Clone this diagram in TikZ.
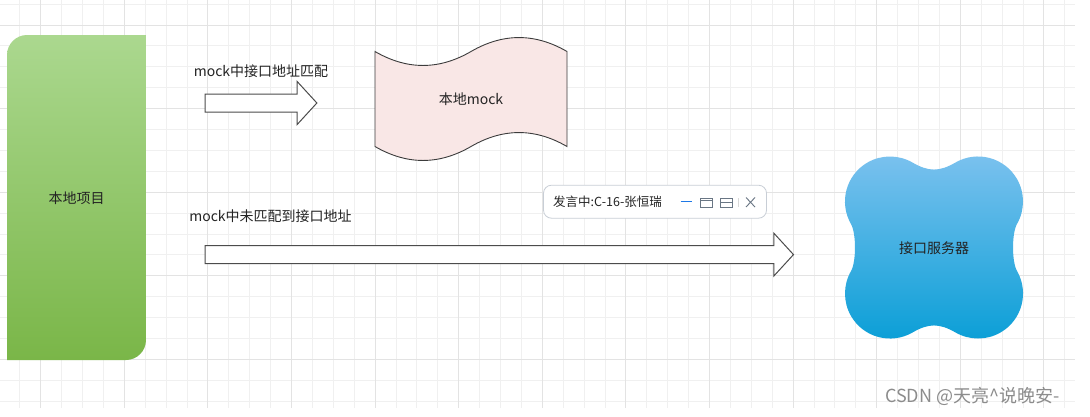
\documentclass[tikz,border=0pt]{standalone}
\usepackage{fontspec}
\newfontfamily\cjk{Noto Sans CJK SC}
\usetikzlibrary{shapes.arrows}
\definecolor{gridmin}{RGB}{240,240,240}
\definecolor{gridmaj}{RGB}{227,227,227}
\definecolor{greentop}{RGB}{171,216,143}
\definecolor{greenbot}{RGB}{122,182,72}
\definecolor{tapefill}{RGB}{249,231,230}
\definecolor{tapeline}{RGB}{60,60,60}
\definecolor{bluetop}{RGB}{125,194,239}
\definecolor{bluebot}{RGB}{8,158,214}
\definecolor{popline}{RGB}{200,206,214}
\definecolor{icongray}{RGB}{105,118,132}
\definecolor{iconblue}{RGB}{30,120,230}
\definecolor{textdark}{RGB}{35,35,35}

\begin{document}
\begin{tikzpicture}[x=1pt,y=-1pt,
  lbl/.style={font=\cjk\fontsize{14}{17}\selectfont,text=textdark,inner sep=0pt},
  blockarrow/.style={single arrow,draw=black!70,fill=white,line width=1pt,
    inner xsep=0pt,inner ysep=8.5pt,single arrow head extend=12.5pt,
    single arrow tip angle=95},
  popup/.style={draw=popline,fill=white,rounded corners=8pt,line width=0.8pt,
    minimum width=223pt,minimum height=33pt},
  icon/.style={draw=icongray,line width=0.9pt}]
  \useasboundingbox (0,0) rectangle (1090,416);
  \fill[white] (0,0) rectangle (1090,416);
  % grid
  \foreach \i in {0,...,50} \draw[gridmin,line width=1pt] ({19.8+20.9*\i},0) -- ({19.8+20.9*\i},408);
  \foreach \j in {0,...,19} \draw[gridmin,line width=1pt] (0,{4.1+20.9*\j}) -- (1075,{4.1+20.9*\j});
  \foreach \i in {1,5,...,49} \draw[gridmaj,line width=1pt] ({19.8+20.9*\i},0) -- ({19.8+20.9*\i},408);
  \foreach \j in {1,5,...,17} \draw[gridmaj,line width=1pt] (0,{4.1+20.9*\j}) -- (1075,{4.1+20.9*\j});

  % local project
  \shade[top color=greentop,bottom color=greenbot] (7,360) -- (7,55)
    .. controls (7,44) and (16,35) .. (27,35) -- (146,35) -- (146,340)
    .. controls (146,351) and (137,360) .. (126,360) -- cycle;
  \node[lbl] (proj) at (76.5,198) {本地项目};

  % local mock
  \filldraw[fill=tapefill,draw=tapeline,line width=0.9pt] (375,51.5)
    .. controls (407,70.1) and (439,70.1) .. (471,51.5)
    .. controls (503,32.9) and (535,32.9) .. (567,51.5) -- (567,146.5)
    .. controls (535,127.9) and (503,127.9) .. (471,146.5)
    .. controls (439,165.1) and (407,165.1) .. (375,146.5) -- cycle;
  \node[lbl] (mock) at (471,99) {本地mock};

  % interface server
  \begin{scope}[shift={(934,247.5)}]
    \shade[top color=bluetop,bottom color=bluebot] (83,23.5)
      arc[start angle=-30,end angle=120,radius=45]
      .. controls (5.3,75.6) and (-5.3,75.6) .. (-21.5,85)
      arc[start angle=60,end angle=210,radius=45]
      .. controls (-77.7,14.3) and (-77.7,-14.3) .. (-83,-23.5)
      arc[start angle=150,end angle=300,radius=45]
      .. controls (-5.3,-75.6) and (5.3,-75.6) .. (21.5,-85)
      arc[start angle=240,end angle=390,radius=45]
      .. controls (77.7,-14.3) and (77.7,14.3) .. cycle;
  \end{scope}
  \node[lbl] (srv) at (934,248) {接口服务器};

  % arrows
  \node[blockarrow,minimum height=111.7pt] (hit) at (256.9,103) {};
  \node[lbl] (hitlbl) at (261,71) {mock中接口地址匹配};
  \node[blockarrow,minimum height=588.3pt] (miss) at (495.2,254.6) {};
  \node[lbl] (misslbl) at (270.5,216) {mock中未匹配到接口地址};

  % popup
  \node[popup] (pop) at (655,201.7) {};
  \node[anchor=west,inner sep=0pt,font=\cjk\fontsize{12.5}{15}\selectfont,text=textdark]
    (poptxt) at (553,202) {发言中:C-16-张恒瑞};
  \draw[iconblue,line width=1.2pt] (680.5,201.5) -- (691.5,201.5);
  \draw[icon] (700.5,198) rectangle (712,207.5);
  \draw[icon] (700.5,200.2) -- (712,200.2);
  \draw[icon] (720.5,198) rectangle (732.5,207.5);
  \draw[icon] (720.5,202.7) -- (732.5,202.7);
  \draw[black!15,line width=0.8pt] (738.5,198) -- (738.5,207);
  \draw[icon] (746,197.5) -- (755,207) (746,207) -- (755,197.5);

  % watermark
  \node[anchor=west,inner sep=0pt,font=\cjk\fontsize{18}{21}\selectfont,text=black!45]
    (mark) at (885,396) {CSDN @天亮\textasciicircum 说晚安-};
\end{tikzpicture}
\end{document}
